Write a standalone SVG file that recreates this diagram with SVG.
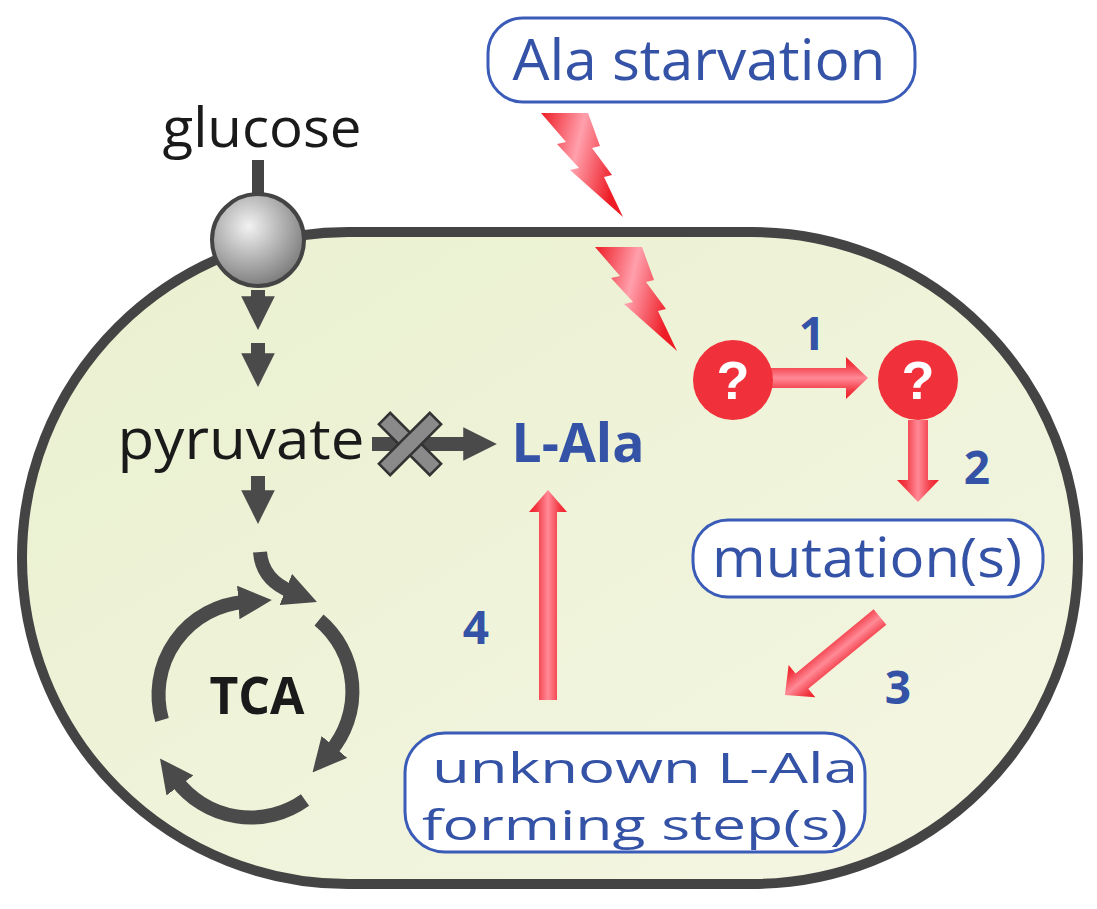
<svg xmlns="http://www.w3.org/2000/svg" width="1097" height="909" viewBox="0 0 1097 909">
<defs>
<style>
.blue{fill:#3553a6;font-family:"Open Sans","Liberation Sans",sans-serif}
.box{fill:#fff;stroke:#3a5cb8;stroke-width:3}
.blk{fill:#1a1a1a;font-family:"Open Sans","Liberation Sans",sans-serif}
.arc{fill:none;stroke:#4a4a4a;stroke-width:14}
.q{fill:#f0303a}
.qt{fill:#fff;font-family:"Liberation Sans",sans-serif;font-weight:bold;font-size:54px;text-anchor:middle}
</style>
<linearGradient id="cell" x1="0" y1="0" x2="1" y2="1"><stop offset="0" stop-color="#e9f0cf"/><stop offset="1" stop-color="#f5f6e3"/></linearGradient>
<radialGradient id="ball" cx="0.4" cy="0.35" r="0.7"><stop offset="0" stop-color="#f2f2f2"/><stop offset="1" stop-color="#777"/></radialGradient>
<linearGradient id="ra" x1="0" y1="0" x2="0" y2="1"><stop offset="0" stop-color="#ee1c25"/><stop offset="0.2" stop-color="#f23a45"/><stop offset="0.5" stop-color="#ff8a96"/><stop offset="0.8" stop-color="#f23a45"/><stop offset="1" stop-color="#ee1c25"/></linearGradient>
<linearGradient id="bolt" x1="0" y1="0" x2="1" y2="0.3"><stop offset="0" stop-color="#ee1c25"/><stop offset="0.5" stop-color="#ffa0ac"/><stop offset="1" stop-color="#ee1c25"/></linearGradient>
<marker id="ah" viewBox="0 0 10 10" refX="2" refY="5" markerWidth="2.4" markerHeight="2.4" orient="auto"><path d="M0,0L10,5L0,10z" fill="#4a4a4a"/></marker>
</defs>
<g id="cellwall"><rect x="22" y="232" width="1056" height="652" rx="326" fill="url(#cell)" stroke="#444" stroke-width="10"/></g>
<g id="glucose"><text class="blk" x="262" y="147" font-size="54" text-anchor="middle" textLength="199" lengthAdjust="spacingAndGlyphs">glucose</text></g>
<g id="connectors">
<line x1="258" y1="160" x2="258" y2="200" stroke="#444" stroke-width="12"/>
<path d="M258 290V303" class="arc" marker-end="url(#ah)"/>
<path d="M258 343V360" class="arc" marker-end="url(#ah)"/>
<path d="M258 476V497" class="arc" marker-end="url(#ah)"/>
<path d="M260 552Q262 580 292 592" class="arc" marker-end="url(#ah)"/>
<path d="M319 620A93 93 0 0 1 330 752" class="arc" marker-end="url(#ah)"/>
<path d="M305 800A93 93 0 0 1 176 780" class="arc" marker-end="url(#ah)"/>
<path d="M162 720A93 93 0 0 1 245 602" class="arc" marker-end="url(#ah)"/>
<path d="M372 444H470" class="arc" stroke-width="15" marker-end="url(#ah)"/>
<g transform="translate(410,444) rotate(45)"><rect x="-36" y="-8" width="72" height="16" fill="#8a8a8a" stroke="#333" stroke-width="2.5"/><rect x="-8" y="-36" width="16" height="72" fill="#8a8a8a" stroke="#333" stroke-width="2.5"/><rect x="-6.7" y="-6.7" width="13.4" height="13.4" fill="#8a8a8a"/></g>
<path id="b1" d="M541 113L588 113L600 146L592 148L612 175L604 177L623 217L570 170L579 168L557 144L566 142Z" fill="url(#bolt)"/>
<use href="#b1" transform="translate(54,134)"/>
<g transform="translate(770,378)"><path d="M0-10H76V-21L98 0L76 21V10H0Z" fill="url(#ra)"/></g>
<g transform="translate(918,420) rotate(90)"><path d="M0-10H60V-21L82 0L60 21V10H0Z" fill="url(#ra)"/></g>
<g transform="translate(880,617) rotate(140.6)"><path d="M0-10H101V-21L123 0L101 21V10H0Z" fill="url(#ra)"/></g>
<g transform="translate(548,700) rotate(-90)"><path d="M0-9H188V-19L210 0L188 19V9H0Z" fill="url(#ra)"/></g>
</g>
<g id="transporter"><circle cx="258" cy="240" r="46" fill="url(#ball)" stroke="#444" stroke-width="4"/></g>
<g id="pyruvate"><text class="blk" x="241" y="459" font-size="56" text-anchor="middle" textLength="247" lengthAdjust="spacingAndGlyphs">pyruvate</text></g>
<g id="tca"><text class="blk" x="257" y="714" font-size="52" font-weight="bold" text-anchor="middle" textLength="95" lengthAdjust="spacingAndGlyphs">TCA</text></g>
<g id="lala"><text class="blue" x="578" y="462" font-size="54" font-weight="bold" text-anchor="middle" textLength="133" lengthAdjust="spacingAndGlyphs">L-Ala</text></g>
<g id="starvation"><rect class="box" x="488" y="18" width="427" height="84" rx="35"/><text class="blue" x="699" y="80" font-size="56" text-anchor="middle" textLength="373" lengthAdjust="spacingAndGlyphs">Ala starvation</text></g>
<g id="q1"><circle class="q" cx="733" cy="380" r="40"/><text class="qt" x="733" y="399">?</text></g>
<g id="q2"><circle class="q" cx="918" cy="380" r="40"/><text class="qt" x="918" y="399">?</text></g>
<g id="mutation"><rect class="box" x="693" y="520" width="350" height="77" rx="35"/><text class="blue" x="867" y="577" font-size="54" text-anchor="middle" textLength="310" lengthAdjust="spacingAndGlyphs">mutation(s)</text></g>
<g id="unknown"><rect class="box" x="405" y="733" width="460" height="119" rx="40"/><text class="blue" x="645" y="783" font-size="42" text-anchor="middle" textLength="426" lengthAdjust="spacingAndGlyphs">unknown L-Ala</text><text class="blue" x="635" y="840" font-size="42" text-anchor="middle" textLength="426" lengthAdjust="spacingAndGlyphs">forming step(s)</text></g>
<g id="labels" class="blue" font-weight="bold" font-size="46" text-anchor="middle">
<text x="812" y="350">1</text><text x="977" y="484">2</text><text x="898" y="704">3</text><text x="476" y="644">4</text>
</g>
</svg>
